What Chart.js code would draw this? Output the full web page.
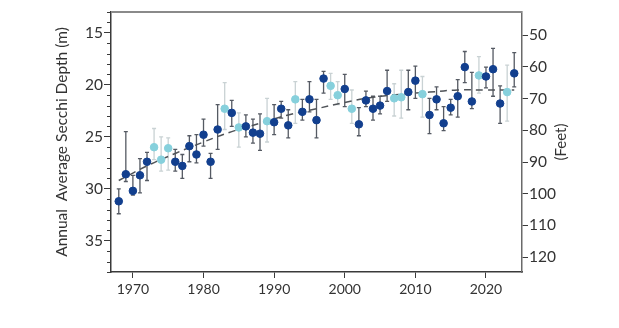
<!DOCTYPE html>
<html>
<head>
<meta charset="utf-8">
<script src="https://cdn.jsdelivr.net/npm/chart.js@4"></script>
<style>
  html, body { margin: 0; padding: 0; background: #fff; }
  #wrap { width: 619px; height: 328px; }
</style>
</head>
<body>
<div id="wrap"><canvas id="myChart"></canvas></div>
<script>
// annual mean secchi depth (m) with low/high range, by year
const years = [1968, 1969, 1970, 1971, 1972, 1973, 1974, 1975, 1976, 1977, 1978, 1979, 1980, 1981, 1982, 1983, 1984, 1985, 1986, 1987,
    1988, 1989, 1990, 1991, 1992, 1993, 1994, 1995, 1996, 1997, 1998, 1999, 2000, 2001, 2002, 2003, 2004, 2005, 2006, 2007,
    2008, 2009, 2010, 2011, 2012, 2013, 2014, 2015, 2016, 2017, 2018, 2019, 2020, 2021, 2022, 2023, 2024];
const depth = [31.2, 28.6, 30.2, 28.7, 27.4, 26.0, 27.2, 26.1, 27.4, 27.8, 25.9, 26.7, 24.8, 27.4, 24.3, 22.3, 22.7, 24.1, 24.0, 24.6,
    24.7, 23.5, 23.6, 22.3, 23.9, 21.4, 22.6, 21.4, 23.4, 19.4, 20.1, 21.0, 20.4, 22.3, 23.8, 21.5, 22.3, 22.0, 20.6, 21.3,
    21.2, 20.7, 19.6, 20.9, 22.9, 21.4, 23.7, 22.2, 21.1, 18.3, 21.6, 19.1, 19.2, 18.5, 21.8, 20.7, 18.9];
const depthMin = [30.0, 24.5, 28.7, 27.1, 26.5, 24.2, 25.0, 25.1, 26.2, 26.7, 24.9, 24.8, 23.3, 26.6, 21.9, 19.8, 21.5, 22.7, 22.9, 23.3,
    22.8, 21.3, 21.9, 21.6, 22.4, 19.7, 21.4, 19.7, 21.4, 18.7, 18.9, 19.7, 19.0, 20.5, 22.2, 20.6, 21.1, 21.1, 18.6, 19.9,
    18.6, 18.6, 18.2, 19.2, 21.3, 20.2, 22.1, 21.4, 19.5, 16.8, 18.8, 17.3, 18.3, 16.5, 20.1, 18.1, 16.9];
const depthMax = [32.4, 29.3, 30.6, 30.4, 29.2, 27.2, 28.3, 28.2, 28.3, 29.0, 27.4, 27.5, 25.9, 29.0, 26.2, 24.3, 24.0, 26.0, 25.0, 25.6,
    26.3, 25.5, 24.8, 23.2, 25.1, 23.7, 23.4, 22.6, 25.1, 20.8, 21.4, 21.9, 22.1, 23.7, 24.9, 22.1, 23.4, 22.8, 21.6, 23.0,
    23.2, 22.4, 21.3, 23.1, 24.7, 22.4, 24.4, 22.9, 23.1, 19.8, 22.3, 20.8, 20.3, 21.1, 23.7, 23.5, 20.2];
// years plotted in the lighter colour
const lightYears = [1973, 1974, 1975, 1983, 1985, 1989, 1993, 1998, 1999, 2001, 2007, 2008, 2011, 2019, 2023];

// long-term trend
const trendYears = [1968, 1972, 1976, 1980, 1984, 1988, 1992, 1996, 2000, 2004, 2008, 2012, 2016, 2020, 2024];
const trendDepth = [29.2, 27.8, 26.6, 25.5, 24.5, 23.7, 22.9, 22.3, 21.7, 21.2, 20.9, 20.7, 20.5, 20.5, 20.5];

const xTicks = [1970, 1980, 1990, 2000, 2010, 2020];
const yTicks = [15, 20, 25, 30, 35];
const feetTicks = [50, 60, 70, 80, 90, 100, 110, 120];

const M_TO_FT = 3.28084;
const yMin = 13, yMax = 38;

const darkBlue = "#123f8e";
const lightBlue = "#86d0dc";
const axisColor = "#3a3a3a";
const textColor = "#333333";
const font = "Lato, 'Open Sans', sans-serif";

const darkPts = [], lightPts = [];
years.forEach((yr, i) => {
    const pt = { x: yr, y: depth[i], lo: depthMin[i], hi: depthMax[i] };
    (lightYears.includes(yr) ? lightPts : darkPts).push(pt);
});

// error bars drawn under the points
const errorBars = {
    id: "errorBars",
    beforeDatasetsDraw(chart) {
        const { ctx, scales: { x, y } } = chart;
        const draw = (pts, color) => {
            ctx.save();
            ctx.strokeStyle = color;
            ctx.lineWidth = 1.3;
            pts.forEach((p) => {
                const px = x.getPixelForValue(p.x);
                const top = y.getPixelForValue(p.lo);
                const bot = y.getPixelForValue(p.hi);
                ctx.beginPath();
                ctx.moveTo(px, top); ctx.lineTo(px, bot);
                ctx.moveTo(px - 2, top); ctx.lineTo(px + 2, top);
                ctx.moveTo(px - 2, bot); ctx.lineTo(px + 2, bot);
                ctx.stroke();
            });
            ctx.restore();
        };
        draw(lightPts, "#c9d2d4");
        draw(darkPts, "#555a63");
    },
};

// frame top line, minor ticks on the metre axis, and the feet label
const frame = {
    id: "frame",
    afterDraw(chart) {
        const { ctx, chartArea: a, scales: { y } } = chart;
        ctx.save();
        ctx.strokeStyle = "#8a8a8a";
        ctx.lineWidth = 2;
        ctx.beginPath();
        ctx.moveTo(a.left, a.top); ctx.lineTo(a.right, a.top);
        ctx.stroke();

        ctx.strokeStyle = axisColor;
        ctx.lineWidth = 1;
        for (let v = yMin; v <= yMax; v++) {
            if (v % 5 === 0) continue;
            const py = Math.round(y.getPixelForValue(v)) + 0.5;
            ctx.beginPath();
            ctx.moveTo(a.left - 4, py); ctx.lineTo(a.left, py);
            ctx.stroke();
        }

        ctx.fillStyle = textColor;
        ctx.font = "15px " + font;
        ctx.textAlign = "center";
        ctx.textBaseline = "middle";
        ctx.translate(561, (a.top + a.bottom) / 2);
        ctx.rotate(-Math.PI / 2);
        ctx.fillText("(Feet)", 0, 0);
        ctx.restore();
    },
};

const setTicks = (list) => (scale) => {
    scale.ticks = list.map((v) => ({ value: v }));
};

new Chart(document.querySelector("#myChart"), {
    data: {
        datasets: [
            {
                type: "scatter",
                data: darkPts,
                backgroundColor: darkBlue,
                borderColor: darkBlue,
                pointRadius: 3.8,
                pointHoverRadius: 3.8,
                order: 1,
            },
            {
                type: "scatter",
                data: lightPts,
                backgroundColor: lightBlue,
                borderColor: lightBlue,
                pointRadius: 3.8,
                pointHoverRadius: 3.8,
                order: 2,
            },
            {
                type: "line",
                data: trendYears.map((yr, i) => ({ x: yr, y: trendDepth[i] })),
                borderColor: "#4f5358",
                borderWidth: 1.5,
                borderDash: [7, 5],
                pointRadius: 0,
                tension: 0.4,
                fill: false,
                order: 3,
            },
        ],
    },
    options: {
        responsive: true,
        maintainAspectRatio: false,
        animation: false,
        layout: { padding: { top: 12, left: 0, right: 0, bottom: 0 } },
        plugins: { legend: { display: false }, tooltip: { enabled: false } },
        scales: {
            x: {
                type: "linear",
                min: 1966.9,
                max: 2025.1,
                afterBuildTicks: setTicks(xTicks),
                afterFit: (s) => { s.height = 56; },
                grid: { drawOnChartArea: false, tickLength: 6, color: axisColor },
                border: { color: axisColor, width: 1.5 },
                ticks: {
                    color: textColor,
                    font: { family: font, size: 14 },
                    padding: 3,
                    callback: (v) => String(v),
                },
            },
            y: {
                type: "linear",
                position: "left",
                reverse: true,
                min: yMin,
                max: yMax,
                afterBuildTicks: setTicks(yTicks),
                afterFit: (s) => { s.width = 111; },
                grid: { drawOnChartArea: false, tickLength: 7, color: axisColor },
                border: { color: axisColor, width: 1.5 },
                ticks: { color: textColor, font: { family: font, size: 15.5 }, padding: 1 },
                title: {
                    display: true,
                    text: "Annual  Average Secchi Depth (m)",
                    color: textColor,
                    font: { family: font, size: 15.5 },
                    padding: { top: 53, bottom: 0 },
                },
            },
            y2: {
                type: "linear",
                position: "right",
                reverse: true,
                min: yMin * M_TO_FT,
                max: yMax * M_TO_FT,
                afterBuildTicks: setTicks(feetTicks),
                afterFit: (s) => { s.width = 97; },
                grid: { drawOnChartArea: false, tickLength: 6, color: axisColor },
                border: { color: "#6a6a6a", width: 1.5 },
                ticks: { color: textColor, font: { family: font, size: 15.5 }, padding: 1 },
            },
        },
    },
    plugins: [errorBars, frame],
});
</script>
</body>
</html>
